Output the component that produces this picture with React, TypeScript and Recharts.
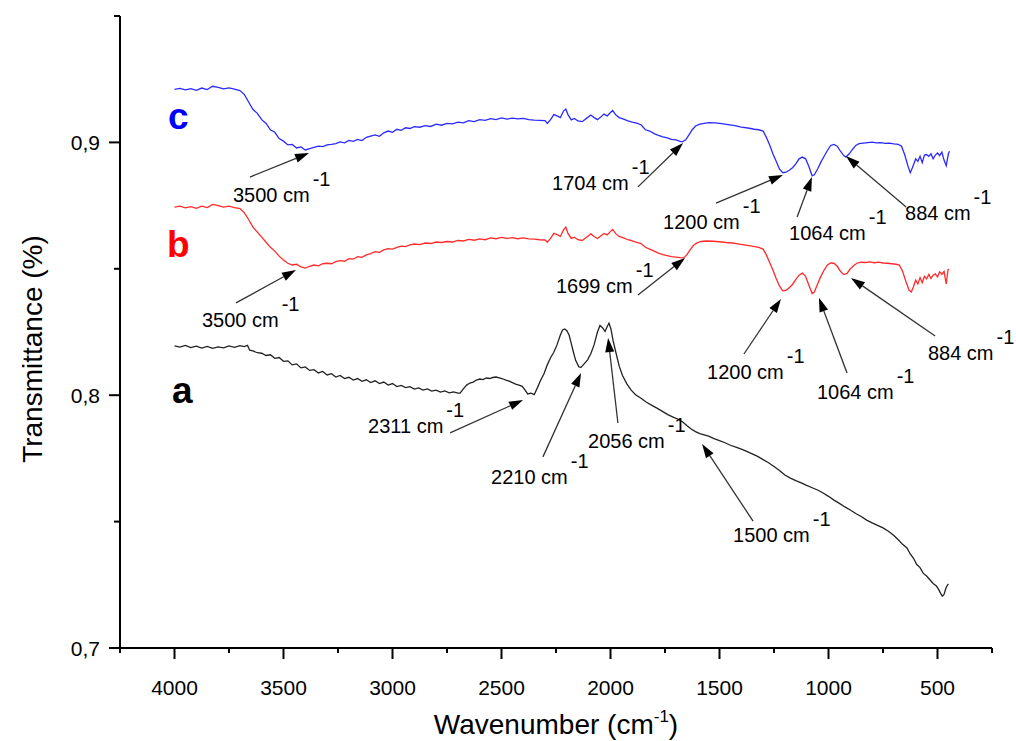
import React from 'react';
import { LineChart, Line, XAxis, YAxis, ReferenceDot, ReferenceLine, Label } from 'recharts';

// ---------- Spectrum c (blue) ----------
const waveC = [4000,3975,3950,3925,3900,3875,3850,3825,3800,3775,3750,3725,3700,3680,3660,3640,3620,3600,3580,3560,3540,3520,3500,3480,3460,3440,3420,3400,3380,3360,3340,3320,3300,3280,3260,3240,3220,3200,3180,3160,3140,3120,3100,3080,3060,3040,3020,3000,2980,2960,2940,2920,2900,2875,2850,2825,2800,2775,2750,2725,2700,2675,2650,2625,2600,2575,2550,2525,2500,2475,2450,2425,2400,2375,2350,2325,2300,2290,2275,2260,2245,2230,2215,2205,2195,2180,2165,2150,2130,2110,2090,2075,2060,2045,2030,2015,2000,1990,1975,1960,1940,1920,1900,1880,1860,1840,1820,1800,1780,1760,1740,1720,1700,1680,1670,1655,1640,1625,1610,1590,1570,1550,1520,1490,1460,1430,1400,1370,1340,1320,1300,1285,1270,1255,1240,1225,1210,1195,1180,1165,1150,1135,1120,1105,1090,1075,1065,1050,1035,1020,1005,990,975,960,945,930,920,905,890,875,860,840,820,800,780,760,740,720,700,680,665,650,635,625,615,600,590,580,570,560,550,540,530,520,510,500,490,480,470,460,450,445];
const valC = [.9210,.9214,.9208,.9213,.9206,.9215,.9209,.9222,.9218,.9212,.9216,.9211,.9205,.9190,.9160,.9130,.9115,.9090,.9075,.9050,.9040,.9015,.9005,.8990,.8992,.8978,.8982,.8970,.8975,.8980,.8985,.8983,.8990,.8992,.8995,.9002,.8998,.9008,.9004,.9012,.9007,.9020,.9025,.9030,.9024,.9038,.9045,.9040,.9052,.9048,.9058,.9055,.9062,.9060,.9066,.9063,.9072,.9068,.9075,.9073,.9080,.9077,.9086,.9082,.9090,.9087,.9094,.9090,.9097,.9092,.9096,.9093,.9095,.9090,.9088,.9087,.9086,.9075,.9090,.9110,.9105,.9098,.9125,.9132,.9110,.9089,.9095,.9085,.9082,.9095,.9108,.9098,.9090,.9100,.9112,.9105,.9118,.9126,.9108,.9098,.9092,.9085,.9080,.9076,.9070,.9050,.9045,.9035,.9028,.9022,.9018,.9012,.9010,.9004,.9002,.9010,.9030,.9050,.9065,.9072,.9075,.9078,.9077,.9074,.9070,.9066,.9060,.9057,.9052,.9050,.9045,.9020,.8990,.8955,.8925,.8895,.8880,.8882,.8890,.8900,.8915,.8935,.8942,.8935,.8905,.8868,.8872,.8895,.8922,.8945,.8968,.8988,.8992,.8985,.8965,.8948,.8942,.8955,.8972,.8988,.8995,.8997,.8999,.9001,.8998,.8999,.8996,.8997,.8994,.8992,.8985,.8950,.8905,.8880,.8900,.8935,.8925,.8945,.8920,.8950,.8952,.8945,.8955,.8935,.8950,.8958,.8948,.8962,.8930,.8908,.8955,.8965];

// ---------- Spectrum b (red) ----------
const waveB = [4000,3975,3950,3925,3900,3875,3850,3825,3800,3775,3750,3725,3700,3680,3660,3640,3620,3600,3580,3560,3540,3520,3500,3480,3460,3440,3420,3400,3380,3360,3340,3320,3300,3280,3260,3240,3220,3200,3180,3160,3140,3120,3100,3080,3060,3040,3020,3000,2980,2960,2940,2920,2900,2875,2850,2825,2800,2775,2750,2725,2700,2675,2650,2625,2600,2575,2550,2525,2500,2475,2450,2425,2400,2375,2350,2325,2300,2290,2275,2260,2245,2230,2215,2205,2195,2180,2165,2150,2130,2110,2090,2075,2060,2045,2030,2015,2000,1990,1975,1960,1940,1920,1900,1880,1860,1840,1820,1800,1780,1760,1740,1720,1700,1680,1665,1650,1635,1620,1605,1585,1560,1530,1500,1470,1440,1410,1380,1350,1320,1300,1285,1270,1255,1240,1225,1210,1195,1180,1165,1150,1135,1120,1105,1090,1075,1065,1050,1035,1020,1005,990,975,960,945,930,915,900,885,870,850,830,810,790,770,750,730,710,690,675,660,645,630,620,610,600,590,580,570,560,550,540,530,520,510,500,490,480,470,460,452,448];
const valB = [.8744,.8748,.8741,.8746,.8739,.8748,.8742,.8755,.8750,.8744,.8748,.8742,.8738,.8722,.8695,.8665,.8645,.8625,.8605,.8585,.8570,.8550,.8535,.8522,.8515,.8518,.8508,.8503,.8510,.8515,.8512,.8520,.8522,.8520,.8528,.8532,.8530,.8540,.8538,.8548,.8545,.8555,.8560,.8568,.8565,.8575,.8580,.8578,.8585,.8590,.8588,.8595,.8598,.8596,.8602,.8600,.8606,.8604,.8608,.8606,.8612,.8610,.8616,.8613,.8618,.8615,.8622,.8619,.8624,.8620,.8623,.8619,.8622,.8618,.8617,.8615,.8614,.8605,.8620,.8640,.8635,.8628,.8655,.8665,.8640,.8620,.8625,.8615,.8612,.8625,.8638,.8628,.8620,.8630,.8640,.8634,.8648,.8656,.8638,.8628,.8622,.8615,.8610,.8605,.8600,.8585,.8578,.8570,.8562,.8556,.8552,.8548,.8546,.8544,.8543,.8555,.8575,.8592,.8602,.8608,.8610,.8609,.8607,.8604,.8602,.8598,.8594,.8590,.8585,.8578,.8555,.8525,.8495,.8462,.8432,.8413,.8415,.8425,.8438,.8458,.8475,.8483,.8470,.8435,.8402,.8408,.8440,.8470,.8495,.8515,.8523,.8522,.8510,.8490,.8477,.8482,.8500,.8512,.8522,.8526,.8525,.8527,.8524,.8526,.8523,.8522,.8520,.8518,.8515,.8490,.8450,.8415,.8408,.8430,.8455,.8440,.8465,.8445,.8470,.8460,.8478,.8462,.8475,.8480,.8468,.8488,.8478,.8490,.8440,.8495,.8500];

// ---------- Spectrum a (black) ----------
const waveA = [4000,3975,3950,3925,3900,3875,3850,3825,3800,3775,3750,3725,3700,3680,3665,3655,3640,3620,3600,3580,3560,3540,3520,3500,3480,3460,3440,3420,3400,3380,3360,3340,3320,3300,3280,3260,3240,3220,3200,3180,3160,3140,3120,3100,3080,3060,3040,3020,3000,2980,2960,2940,2920,2900,2880,2860,2840,2820,2800,2780,2760,2740,2720,2700,2690,2675,2660,2645,2630,2615,2600,2585,2570,2555,2540,2525,2510,2495,2480,2465,2450,2435,2420,2405,2390,2380,2365,2350,2335,2320,2305,2290,2275,2260,2245,2230,2220,2210,2200,2190,2180,2170,2160,2145,2135,2120,2105,2090,2075,2060,2048,2035,2025,2015,2007,1998,1988,1975,1960,1945,1925,1905,1885,1860,1835,1810,1785,1760,1735,1710,1690,1670,1650,1630,1610,1590,1570,1550,1525,1500,1475,1450,1425,1400,1375,1350,1325,1300,1275,1250,1225,1200,1175,1150,1125,1100,1075,1050,1025,1000,975,950,925,900,875,850,825,800,775,750,725,700,680,660,640,625,610,595,580,565,550,535,520,505,495,485,478,470,462,455,450];
const valA = [.8195,.8190,.8197,.8188,.8194,.8186,.8193,.8185,.8191,.8187,.8195,.8189,.8196,.8192,.8197,.8178,.8175,.8168,.8166,.8157,.8160,.8146,.8149,.8134,.8136,.8120,.8124,.8108,.8112,.8098,.8101,.8088,.8094,.8080,.8085,.8072,.8078,.8066,.8071,.8060,.8066,.8055,.8061,.8050,.8057,.8046,.8052,.8040,.8046,.8034,.8039,.8030,.8034,.8024,.8029,.8020,.8025,.8016,.8020,.8012,.8017,.8009,.8013,.8008,.8008,.8025,.8040,.8048,.8052,.8060,.8064,.8062,.8068,.8066,.8070,.8072,.8069,.8065,.8060,.8056,.8050,.8044,.8040,.8035,.8018,.8005,.8008,.8002,.8030,.8060,.8085,.8120,.8148,.8170,.8200,.8238,.8258,.8262,.8255,.8238,.8205,.8170,.8138,.8112,.8110,.8125,.8140,.8165,.8200,.8250,.8276,.8265,.8252,.8272,.8285,.8262,.8215,.8168,.8115,.8078,.8045,.8020,.8002,.7988,.7972,.7960,.7948,.7935,.7922,.7912,.7905,.7895,.7880,.7866,.7856,.7848,.7843,.7838,.7828,.7820,.7812,.7802,.7795,.7787,.7778,.7768,.7758,.7745,.7733,.7718,.7702,.7684,.7672,.7662,.7653,.7643,.7634,.7625,.7613,.7600,.7585,.7572,.7558,.7546,.7532,.7520,.7506,.7495,.7485,.7475,.7462,.7445,.7428,.7410,.7396,.7372,.7355,.7330,.7318,.7295,.7285,.7270,.7255,.7245,.7232,.7215,.7205,.7212,.7235,.7248,.7253];

// ---------- Axes ----------
const xTicks = [4250,4000,3750,3500,3250,3000,2750,2500,2250,2000,1750,1500,1250,1000,750,500,250];
const yTicks = [0.7,0.75,0.8,0.85,0.9,0.95];

// ---------- Annotations (label start in data coords, arrow tail -> tip) ----------
const annText = ['3500 cm','1704 cm','1200 cm','1064 cm','884 cm','3500 cm','1699 cm','1200 cm','1064 cm','884 cm','2311 cm','2210 cm','2056 cm','1500 cm'];
const annTextX = [3732,2268,1759,1181,649,3874,2250,1557,1053,544,3112,2548,2103,1438];
const annTextY = [.8764,.8812,.8657,.8614,.8693,.8270,.8404,.8064,.7985,.8139,.7851,.7649,.7791,.7419];
const arrowTailX = [3654,1874,1516,1144,644,3718,1874,1388,915,511,2736,2310,1966,1346];
const arrowTailY = [.8863,.8824,.8760,.8705,.8744,.8365,.8396,.8163,.8088,.8234,.7851,.7756,.7890,.7502];
const arrowTipX = [3383,1667,1209,1076,920,3443,1658,1218,1044,897,2401,2135,2011,1580];
const arrowTipY = [.8958,.8998,.8871,.8863,.8946,.8495,.8543,.8381,.8385,.8464,.7981,.8088,.8226,.7807];

const seriesNames = ['c','b','a'];
const seriesColors = ['#0000ff','#ff0000','#000000'];
const seriesLabelX = [4030,4034,4011];
const seriesLabelY = [.9053,.8547,.7969];

const FONT = "Arial, 'Liberation Sans', Helvetica, sans-serif";

const toData = (w: number[], v: number[]) => w.map((x, i) => ({ wn: x, t: v[i] }));
const dataA = toData(waveA, valA);
const dataB = toData(waveB, valB);
const dataC = toData(waveC, valC);

const isMajorX = (v: number) => v % 500 === 0;
const isMajorY = (v: number) => Math.abs(v * 10 - Math.round(v * 10)) < 1e-6;

const XTick = (p: any) => {
  const v = p.payload.value;
  const major = isMajorX(v);
  return (
    <g>
      <line x1={p.x} y1={p.y} x2={p.x} y2={p.y + (major ? 11 : 5)} stroke="#000" strokeWidth={2} />
      {major && v >= 500 && v <= 4000 ? (
        <text x={p.x} y={p.y + 47} textAnchor="middle" fontSize={21} fontFamily={FONT} fill="#000">{v}</text>
      ) : null}
    </g>
  );
};

const YTick = (p: any) => {
  const v = p.payload.value;
  const major = isMajorY(v);
  return (
    <g>
      <line x1={p.x} y1={p.y} x2={p.x - (major ? 11 : 6)} y2={p.y} stroke="#000" strokeWidth={2} />
      {major ? (
        <text x={p.x - 20} y={p.y + 7.5} textAnchor="end" fontSize={21} fontFamily={FONT} fill="#000">{v.toFixed(1).replace('.', ',')}</text>
      ) : null}
    </g>
  );
};

const Arrow = (p: any) => {
  const { x1, y1, x2, y2 } = p;
  const dx = x2 - x1, dy = y2 - y1;
  const len = Math.sqrt(dx * dx + dy * dy) || 1;
  const ux = dx / len, uy = dy / len;
  const hl = 14, hw = 4.5;
  const bx = x2 - ux * hl, by = y2 - uy * hl;
  const pts = `${x2},${y2} ${bx - uy * hw},${by + ux * hw} ${bx + uy * hw},${by - ux * hw}`;
  return (
    <g>
      <line x1={x1} y1={y1} x2={bx} y2={by} stroke="#333" strokeWidth={1.3} />
      <polygon points={pts} fill="#000" />
    </g>
  );
};

const makeAnnText = (txt: string) => (p: any) => (
  <text x={p.cx} y={p.cy} fontSize={20} fontFamily={FONT} fill="#000">
    {txt}
    <tspan dx={3} dy={-16} fontSize={20}>-1</tspan>
  </text>
);

const makeSeriesLabel = (txt: string, color: string) => (p: any) => (
  <text x={p.cx} y={p.cy} fontSize={37} fontWeight="bold" fontFamily={FONT} fill={color}>{txt}</text>
);

export default function App() {
  return (
    <div style={{ fontFamily: FONT, width: 1016, height: 741 }}>
      <style>{`html, body { margin: 0; padding: 0; overflow: hidden; } .recharts-surface { overflow: visible; }`}</style>
      <LineChart width={1016} height={741} margin={{ top: 16, right: 24, bottom: 0, left: 0 }}>
        <XAxis
          dataKey="wn"
          type="number"
          domain={[250, 4250]}
          reversed
          ticks={xTicks}
          interval={0}
          allowDataOverflow
          height={93}
          tickSize={0}
          tickMargin={0}
          tickLine={false}
          tick={<XTick />}
          axisLine={{ stroke: '#000', strokeWidth: 2 }}
        >
          <Label
            content={(p: any) => {
              const vb = p.viewBox;
              return (
                <text x={vb.x + vb.width / 2} y={vb.y + 86} textAnchor="middle" fontSize={28} fontFamily={FONT} fill="#000">
                  Wavenumber (cm<tspan dy={-12} fontSize={17}>-1</tspan><tspan dy={12}>)</tspan>
                </text>
              );
            }}
          />
        </XAxis>
        <YAxis
          type="number"
          domain={[0.7, 0.95]}
          ticks={yTicks}
          interval={0}
          allowDataOverflow
          width={120}
          tickSize={0}
          tickMargin={0}
          tickLine={false}
          tick={<YTick />}
          axisLine={{ stroke: '#000', strokeWidth: 2 }}
        >
          <Label
            content={(p: any) => {
              const vb = p.viewBox;
              const cx = 32;
              const cy = vb.y + vb.height / 2 + 17;
              return (
                <text x={cx} y={cy} transform={`rotate(-90 ${cx} ${cy})`} textAnchor="middle" dominantBaseline="central" fontSize={28} fontFamily={FONT} fill="#000">
                  Transmittance (%)
                </text>
              );
            }}
          />
        </YAxis>
        <Line data={dataA} dataKey="t" stroke="#222222" strokeWidth={1.3} dot={false} isAnimationActive={false} type="linear" />
        <Line data={dataB} dataKey="t" stroke="#ff2a2a" strokeWidth={1.3} dot={false} isAnimationActive={false} type="linear" />
        <Line data={dataC} dataKey="t" stroke="#2a2aff" strokeWidth={1.3} dot={false} isAnimationActive={false} type="linear" />
        {annText.map((t, i) => (
          <ReferenceLine
            key={'arr' + i}
            segment={[{ x: arrowTailX[i], y: arrowTailY[i] }, { x: arrowTipX[i], y: arrowTipY[i] }]}
            shape={<Arrow />}
            ifOverflow="visible"
          />
        ))}
        {annText.map((t, i) => (
          <ReferenceDot key={'txt' + i} x={annTextX[i]} y={annTextY[i]} r={0} shape={makeAnnText(t)} ifOverflow="visible" />
        ))}
        {seriesNames.map((s, i) => (
          <ReferenceDot key={'s' + i} x={seriesLabelX[i]} y={seriesLabelY[i]} r={0} shape={makeSeriesLabel(s, seriesColors[i])} ifOverflow="visible" />
        ))}
      </LineChart>
    </div>
  );
}
